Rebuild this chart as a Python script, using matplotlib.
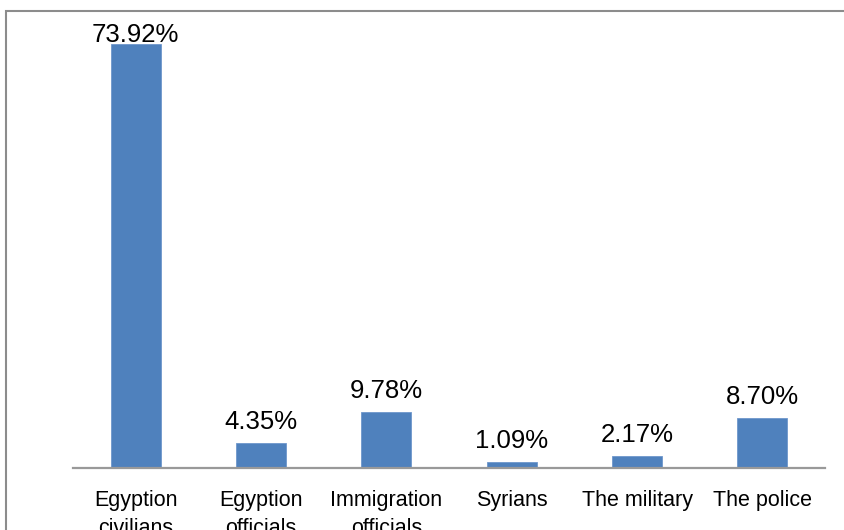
import matplotlib
matplotlib.use("Agg")
import matplotlib.pyplot as plt
from matplotlib.patches import Rectangle

categories = ["Egyption\ncivilians", "Egyption\nofficials", "Immigration\nofficials",
              "Syrians", "The military", "The police"]
values = [73.92, 4.35, 9.78, 1.09, 2.17, 8.70]
labels = ["73.92%", "4.35%", "9.78%", "1.09%", "2.17%", "8.70%"]

plt.rcParams['font.family'] = ['Liberation Sans', 'DejaVu Sans']

W, H = 844, 530
fig = plt.figure(figsize=(W / 100, H / 100), dpi=100)
fig.patch.set_facecolor('white')

# outer chart border (cut by figure edges on right/bottom)
fig.patches.append(Rectangle((5.5 / W, -0.1), 1.2, 1 - 10.5 / H + 0.1,
                             transform=fig.transFigure, fill=False,
                             edgecolor='#8c8c8c', linewidth=1.5))

left, right, bottom_px, top_px = 73, 825, 468, 9
ax = fig.add_axes([left / W, (H - bottom_px) / H, (right - left) / W,
                   (bottom_px - top_px) / H])
ax.set_facecolor('none')
x = range(len(categories))
ax.bar(x, values, width=0.4, color='#4F81BD', edgecolor='#6f97cc', linewidth=0.6)
ax.set_xlim(-0.5, len(categories) - 0.5)
ax.set_ylim(0, 80)

for s in ['top', 'right', 'left']:
    ax.spines[s].set_visible(False)
ax.spines['bottom'].set_color('#999999')
ax.spines['bottom'].set_linewidth(1.6)
ax.set_yticks([])
ax.set_xticks(list(x))
ax.set_xticklabels(categories, fontsize=15.5, linespacing=1.45)
ax.tick_params(axis='x', length=0, pad=16, colors='black')

cap = 74.3
for i, (v, lab) in enumerate(zip(values, labels)):
    yv = v + 14 / 5.736
    ax.text(i, min(yv, cap), lab, ha='center', va='baseline', fontsize=18.5,
            color='black')

fig.savefig('out.png', dpi=100)
